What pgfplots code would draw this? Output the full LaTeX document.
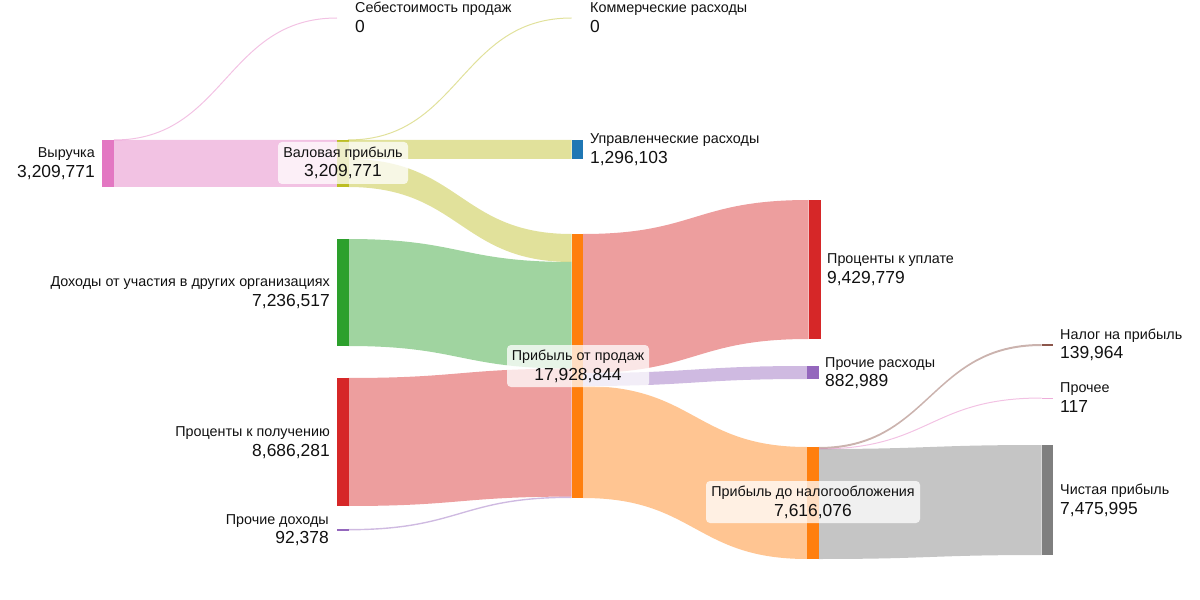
\documentclass[border=0pt]{standalone}
\usepackage{pgfplots}
\pgfplotsset{compat=1.18}
\usepackage{fontspec}
\setmainfont{Liberation Sans}

\definecolor{cPink}{HTML}{E377C2}
\definecolor{cOlive}{HTML}{BCBD22}
\definecolor{cBlue}{HTML}{1F77B4}
\definecolor{cGreen}{HTML}{2CA02C}
\definecolor{cRed}{HTML}{D62728}
\definecolor{cPurple}{HTML}{9467BD}
\definecolor{cOrange}{HTML}{FF7F0E}
\definecolor{cBrown}{HTML}{8C564B}
\definecolor{cGray}{HTML}{7F7F7F}
\definecolor{txt}{HTML}{111111}

\newcommand\nm{\fontsize{14.4}{16}\selectfont}
\newcommand\vl{\fontsize{17.5}{20}\selectfont}

% link band: x0, top0, bot0, x1, top1, bot1, mid x, colour
\newcommand\band[8]{%
  \fill[#8, fill opacity=0.45]
    (axis cs:#1,#2) .. controls (axis cs:#7,#2) and (axis cs:#7,#5) .. (axis cs:#4,#5)
    -- (axis cs:#4,#6) .. controls (axis cs:#7,#6) and (axis cs:#7,#3) .. (axis cs:#1,#3) -- cycle;}
% zero-value link: x0, y0, x1, y1, mid x, colour
\newcommand\thin[6]{%
  \draw[#6, draw opacity=0.45, line width=1bp]
    (axis cs:#1,#2) .. controls (axis cs:#5,#2) and (axis cs:#5,#4) .. (axis cs:#3,#4);}
% node bar: x0, x1, y0, y1, colour
\newcommand\nodebar[5]{%
  \addplot[fill=#5, draw=none] coordinates {(#1,#3) (#2,#3) (#2,#4) (#1,#4)};}
% labels: x, centre y, name, value
\newcommand\lablL[4]{%
  \node[anchor=base east, text=txt, inner sep=0] at (axis cs:#1,#2-5.5) {\nm #3};
  \node[anchor=base east, text=txt, inner sep=0] at (axis cs:#1,#2+14) {\vl #4};}
\newcommand\lablR[4]{%
  \node[anchor=base west, text=txt, inner sep=0] at (axis cs:#1,#2-5.5) {\nm #3};
  \node[anchor=base west, text=txt, inner sep=0] at (axis cs:#1,#2+14) {\vl #4};}
% centred label with box: x, centre y, box half width, name, value
\newcommand\lablC[5]{%
  \fill[white, fill opacity=0.75, rounded corners=4bp]
    (axis cs:#1-#3,#2-21) rectangle (axis cs:#1+#3,#2+21);
  \node[anchor=base, text=txt, inner sep=0] at (axis cs:#1,#2-5.5) {\nm #4};
  \node[anchor=base, text=txt, inner sep=0] at (axis cs:#1,#2+14) {\vl #5};}

\begin{document}
\begin{tikzpicture}
\begin{axis}[
    width=1200bp, height=600bp, scale only axis,
    xmin=0, xmax=1200, ymin=0, ymax=600,
    y dir=reverse, hide axis, clip=false
]
% links
\thin{114}{140}{337}{18}{225.5}{cPink}
\band{114}{140}{187}{337}{140}{187}{225.5}{cPink}
\thin{348}{140}{571.5}{18}{460}{cOlive}
\band{348}{140}{159}{571.5}{140}{159}{460}{cOlive}
\band{348}{159}{187}{571.5}{234}{262}{460}{cOlive}
\band{348}{239}{346}{571.5}{262}{368.6}{460}{cGreen}
\band{348}{378}{506}{571.5}{368.6}{496.6}{460}{cRed}
\band{348}{529}{530.4}{571.5}{496.6}{498}{460}{cPurple}
\band{583}{234}{373}{808.5}{200}{339}{695}{cRed}
\band{583}{373}{386}{807}{366}{379}{695}{cPurple}
\band{583}{386}{498}{807}{447}{559}{695}{cOrange}
\band{818.5}{447}{449}{1041.5}{344}{346}{930}{cBrown}
\thin{818.5}{449}{1041.5}{398}{930}{cPink}
\band{818.5}{449}{559}{1041.5}{445}{555}{930}{cGray}
% nodes
\nodebar{102}{114}{140}{187}{cPink}
\nodebar{337}{348.5}{140}{187}{cOlive}
\nodebar{571.5}{583}{140}{159}{cBlue}
\nodebar{337}{348.5}{239}{346}{cGreen}
\nodebar{337}{348.5}{378}{506}{cRed}
\nodebar{337}{348.5}{529}{530.6}{cPurple}
\nodebar{571.5}{583}{234}{498}{cOrange}
\nodebar{808.5}{820.5}{200}{339}{cRed}
\nodebar{807}{818.5}{366}{379}{cPurple}
\nodebar{807}{818.5}{447}{559}{cOrange}
\nodebar{1041.5}{1053}{344}{346}{cBrown}
\nodebar{1041.5}{1053}{397.5}{398.5}{cPink!60}
\nodebar{1041.5}{1053}{445}{555}{cGray}
% labels
\lablL{95}{163.5}{Выручка}{3,209,771}
\lablL{330}{292.5}{Доходы от участия в других организациях}{7,236,517}
\lablL{330}{442}{Проценты к получению}{8,686,281}
\lablL{329}{529.7}{Прочие доходы}{92,378}
\lablR{355}{18.5}{Себестоимость продаж}{0}
\lablR{590}{18.5}{Коммерческие расходы}{0}
\lablR{590}{149.5}{Управленческие расходы}{1,296,103}
\lablR{827}{269.5}{Проценты к уплате}{9,429,779}
\lablR{825}{372.5}{Прочие расходы}{882,989}
\lablR{1060}{345}{Налог на прибыль}{139,964}
\lablR{1060}{398}{Прочее}{117}
\lablR{1060}{500}{Чистая прибыль}{7,475,995}
\lablC{343}{163}{65}{Валовая прибыль}{3,209,771}
\lablC{578}{366}{71}{Прибыль от продаж}{17,928,844}
\lablC{813}{502}{107}{Прибыль до налогообложения}{7,616,076}
\end{axis}
\pgfresetboundingbox
\path (current axis.south west) rectangle (current axis.north east);
\end{tikzpicture}
\end{document}
